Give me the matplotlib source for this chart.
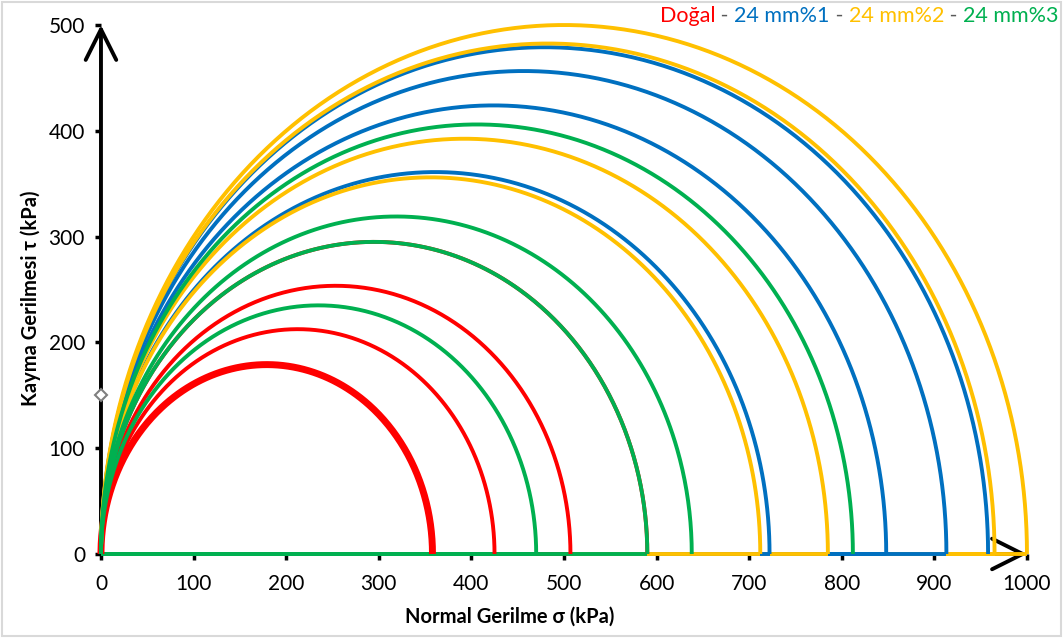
import numpy as np
import matplotlib
matplotlib.use("Agg")
import matplotlib.pyplot as plt
from matplotlib.patches import Rectangle
from matplotlib.offsetbox import TextArea, HPacker, AnchoredOffsetbox

plt.rcParams["font.family"] = ["Lato", "DejaVu Sans"]

# Mohr daireleri: her deney için σ1 (kPa), σ3 = 0
dogal = [358, 425, 507, 590]
mm1 = [722, 848, 913, 958]
mm2 = [712, 785, 965, 1000]
mm3 = [470, 590, 638, 812]

series_names = ["Doğal", "24 mm%1", "24 mm%2", "24 mm%3"]
series_colors = ["#FF0000", "#0070C0", "#FFC000", "#00B050"]

x_ticks = list(range(0, 1001, 100))
y_ticks = list(range(0, 501, 100))

W, H = 1064, 638
fig = plt.figure(figsize=(W / 100, H / 100), dpi=100)
ax = fig.add_axes([0.0949, 0.1317, 0.8703, 0.8291])
ax.set_xlim(0, 1000)
ax.set_ylim(0, 500)

# çerçeve
fig.patches.append(Rectangle((0.002, 0.003), 0.995, 0.994, transform=fig.transFigure,
                             fill=False, edgecolor="#D9D9D9", linewidth=1.5))

# eksen okları
arrow = dict(arrowstyle="->,head_length=1.1,head_width=0.55", color="black",
             lw=2.8, shrinkA=0, shrinkB=0, mutation_scale=20)
ax.annotate("", xy=(1000, 0), xytext=(0, 0), arrowprops=arrow,
            annotation_clip=False, zorder=1)
ax.annotate("", xy=(0, 500), xytext=(0, 0), arrowprops=arrow,
            annotation_clip=False, zorder=1)

theta = np.linspace(0, np.pi, 400)
all_series = [dogal, mm1, mm2, mm3]

# daire yayları
for values, color in zip(all_series, series_colors):
    for i, s1 in enumerate(values):
        r = s1 / 2.0
        lw = 5.0 if (values is dogal and i == 0) else 2.8
        ax.plot(r + r * np.cos(theta), r * np.sin(theta), color=color, lw=lw,
                solid_capstyle="butt", clip_on=False, zorder=3)

# taban çizgileri (σ ekseni boyunca), çizim sırası
base_order = [(0, 3), (1, 3), (3, 3), (3, 2), (2, 3), (2, 2), (1, 2), (1, 1),
              (2, 1), (1, 0), (2, 0), (0, 2), (0, 1), (0, 0), (3, 0), (3, 1)]
for k, (si, i) in enumerate(base_order):
    s1 = all_series[si][i]
    ax.plot([0, s1], [0, 0], color=series_colors[si], lw=2.8, clip_on=False,
            solid_capstyle="butt", zorder=2 + k * 0.01)

ax.plot([0], [150], marker="D", markersize=6, markerfacecolor="white",
        markeredgecolor="#7F7F7F", markeredgewidth=1.5, clip_on=False, zorder=5)

for sp in ax.spines.values():
    sp.set_visible(False)
ax.set_xticks(x_ticks)
ax.set_yticks(y_ticks)
ax.tick_params(axis="both", direction="out", length=4.5, width=2.5, color="black",
               labelsize=15, labelcolor="black")
ax.tick_params(axis="x", pad=10)
ax.tick_params(axis="y", pad=7)

fig.text(510 / W, 1 - 617 / H, "Normal Gerilme σ (kPa)", fontsize=14.5,
         fontweight="bold", ha="center", va="center")
fig.text(31 / W, 1 - 298 / H, "Kayma Gerilmesi τ (kPa)", fontsize=14.5,
         fontweight="bold", ha="center", va="center", rotation=90)

# seri adları (renkli başlık)
parts = []
for j, (name, color) in enumerate(zip(series_names, series_colors)):
    if j > 0:
        parts.append(TextArea(" - ", textprops=dict(color="#595959", fontsize=15.5)))
    parts.append(TextArea(name, textprops=dict(color=color, fontsize=15.5)))
box = HPacker(children=parts, align="baseline", pad=0, sep=0)
anchored = AnchoredOffsetbox(loc="upper right", child=box, frameon=False, pad=0,
                             bbox_to_anchor=(0.995, 0.99), bbox_transform=fig.transFigure,
                             borderpad=0)
ax.add_artist(anchored)

fig.savefig("out.png", dpi=100)
